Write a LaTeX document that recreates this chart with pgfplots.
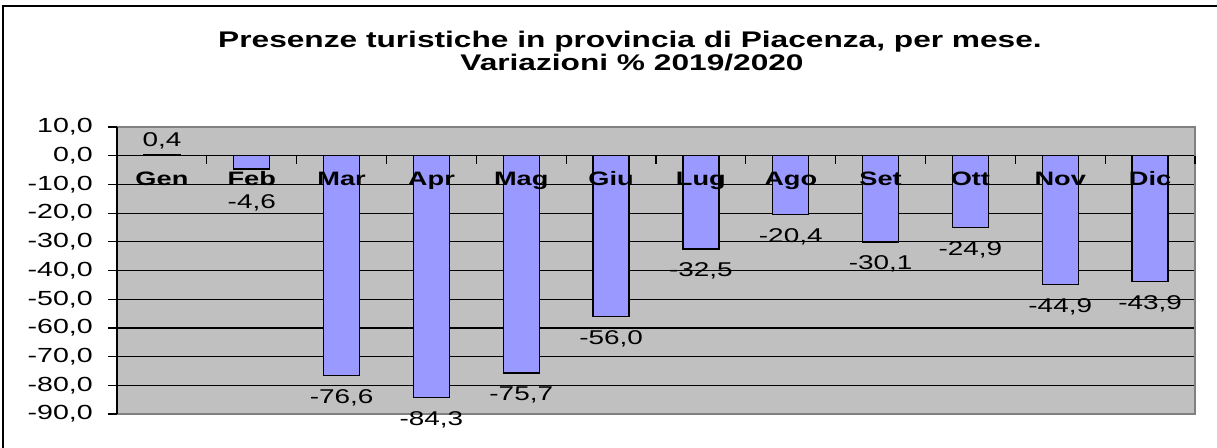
\documentclass[border=0pt]{standalone}
\usepackage{pgfplots}
\pgfplotsset{compat=1.18}
\usepackage{fontspec}
\setmainfont{Liberation Sans}[FakeStretch=1.4]
\definecolor{barfill}{RGB}{153,153,255}
\definecolor{plotbg}{RGB}{192,192,192}
\definecolor{framegray}{RGB}{128,128,128}
\begin{document}
\begin{tikzpicture}
\useasboundingbox (0,0) rectangle (1217bp,-448bp);
\draw[line width=2bp] (3bp,-448bp) -- (3bp,-6bp) -- (1217bp,-6bp);
\node[anchor=base, inner sep=0pt, font=\fontsize{22.7}{26}\selectfont\bfseries] at (630bp,-47bp) {Presenze turistiche in provincia di Piacenza, per mese.};
\node[anchor=base, inner sep=0pt, font=\fontsize{22.7}{26}\selectfont\bfseries] at (632bp,-70bp) {Variazioni \% 2019/2020};
\begin{axis}[
  at={(117bp,-414bp)}, anchor=south west,
  scale only axis, width=1078bp, height=287bp,
  xmin=-0.5, xmax=11.5, ymin=-90, ymax=10,
  axis background/.style={fill=plotbg},
  axis line style={draw=none},
  xtick=\empty,
  ytick={-90,-80,...,10},
  ytick pos=left,
  tick align=outside,
  major tick length=9bp,
  ytick style={black, line width=1.2bp},
  ymajorgrids,
  grid style={black, line width=1.2bp},
  scaled y ticks=false,
  /pgf/number format/assume math mode=true,
  yticklabel style={font=\fontsize{20.5}{22}\selectfont, anchor=east, inner sep=0pt, xshift=-15bp,
    /pgf/number format/fixed, /pgf/number format/fixed zerofill,
    /pgf/number format/precision=1, /pgf/number format/use comma},
  clip=false,
]
\addplot[ybar, bar width=36bp, fill=barfill, draw=black, line width=1.2bp,
  visualization depends on=rawy \as \rawy,
  nodes near coords={\pgfmathprintnumber[fixed,fixed zerofill,precision=1,use comma,assume math mode=true]{\pgfplotspointmeta}},
  nodes near coords style={anchor=base, inner sep=0pt, text=black,
    font=\fontsize{20}{22}\selectfont,
    yshift={ifthenelse(\rawy<0, ifthenelse(\rawy>-10,-40,-28), 8)}},
] coordinates {
  (0,0.4) (1,-4.6) (2,-76.6) (3,-84.3) (4,-75.7) (5,-56.0)
  (6,-32.5) (7,-20.4) (8,-30.1) (9,-24.9) (10,-44.9) (11,-43.9)
};
\addplot[only marks, mark=none, point meta=explicit symbolic,
  nodes near coords,
  nodes near coords style={anchor=base, inner sep=0pt, yshift=-30bp,
    font=\fontsize{19.5}{22}\selectfont\bfseries},
] coordinates {
  (0,0)[Gen] (1,0)[Feb] (2,0)[Mar] (3,0)[Apr] (4,0)[Mag] (5,0)[Giu]
  (6,0)[Lug] (7,0)[Ago] (8,0)[Set] (9,0)[Ott] (10,0)[Nov] (11,0)[Dic]
};
\draw[framegray, line width=1.5bp] (rel axis cs:0,0) -- (rel axis cs:1,0) -- (rel axis cs:1,1) -- (rel axis cs:0,1);
\draw[black, line width=1.5bp] (rel axis cs:0,0) -- (rel axis cs:0,1);
\pgfplotsinvokeforeach{0.5,1.5,2.5,3.5,4.5,5.5,6.5,7.5,8.5,9.5,10.5,11.5}{
  \draw[black, line width=1.2bp] (axis cs:#1,0) -- ([yshift=-8bp]axis cs:#1,0);
}
\end{axis}
\end{tikzpicture}
\end{document}
